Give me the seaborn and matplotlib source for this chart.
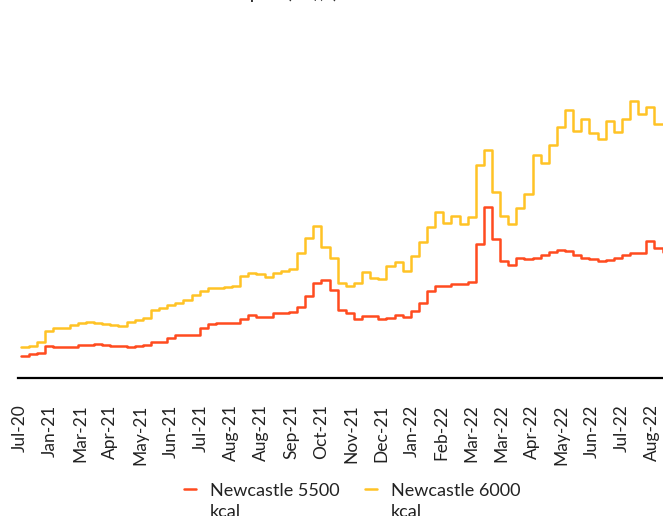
import numpy as np
import pandas as pd
import matplotlib.pyplot as plt
import seaborn as sns

# weekly steps (US$/t)
nc5500 = [35, 38, 40, 51, 50, 50, 50, 53, 53, 54,
          53, 51, 51, 50, 51, 53, 58, 58, 64, 69,
          69, 69, 80, 86, 88, 88, 88, 94, 101, 98,
          98, 104, 104, 106, 114, 131, 152, 157, 141, 109,
          104, 94, 99, 99, 94, 96, 101, 98, 107, 120,
          139, 147, 147, 150, 150, 154, 214, 274, 222, 187,
          181, 192, 190, 192, 197, 202, 205, 203, 197, 192,
          190, 187, 189, 192, 197, 200, 200, 219, 208, 202]
nc6000 = [50, 51, 58, 75, 80, 80, 85, 88, 90, 88,
          86, 85, 83, 90, 93, 96, 109, 112, 117, 120,
          125, 133, 139, 144, 144, 146, 147, 163, 168, 166,
          162, 168, 171, 174, 200, 224, 243, 210, 192, 152,
          147, 152, 170, 160, 158, 179, 186, 171, 195, 218,
          242, 266, 248, 259, 246, 258, 341, 365, 298, 259,
          246, 272, 294, 357, 344, 373, 402, 429, 395, 414,
          392, 382, 411, 394, 414, 443, 422, 434, 406, 406]
tick_labels = ['Jul-20', 'Jan-21', 'Mar-21', 'Apr-21', 'May-21', 'Jun-21', 'Jul-21',
               'Aug-21', 'Aug-21', 'Sep-21', 'Oct-21', 'Nov-21', 'Dec-21', 'Jan-22',
               'Feb-22', 'Mar-22', 'Mar-22', 'Apr-22', 'May-22', 'Jun-22', 'Jul-22', 'Aug-22']
series_names = ['Newcastle 5500\nkcal', 'Newcastle 6000\nkcal']

df = pd.concat([
    pd.DataFrame({'week': np.arange(len(nc5500)), 'price': nc5500, 'series': series_names[0]}),
    pd.DataFrame({'week': np.arange(len(nc6000)), 'price': nc6000, 'series': series_names[1]}),
])

sns.set_theme(style='white')
plt.rcParams['font.family'] = ['Lato', 'DejaVu Sans']

fig = plt.figure(figsize=(6.63, 5.16), dpi=100)
ax = fig.add_axes([18 / 663, 138 / 516, 645 / 663, 338 / 516])

sns.lineplot(data=df, x='week', y='price', hue='series',
             palette=['#FF4B1F', '#FFC325'], drawstyle='steps-post',
             linewidth=1.8, ax=ax)

ax.set_xlim(-0.37, 79.06)
ax.set_ylim(0, 541)
# ticks sit about 3.7 weeks apart
tick_pos = (np.arange(len(tick_labels)) * 30.1 - 1) / 8.12
ax.set_xticks(tick_pos, labels=tick_labels, rotation=90)
ax.tick_params(axis='x', length=0, pad=19, labelsize=12.5, labelcolor='#222222')
ax.set_yticks([])
ax.set_xlabel('')
ax.set_ylabel('')
for side in ['top', 'right', 'left']:
    ax.spines[side].set_visible(False)
ax.spines['bottom'].set_color('black')
ax.spines['bottom'].set_linewidth(1.6)

handles, labels = ax.get_legend_handles_labels()
ax.get_legend().remove()
leg = fig.legend(handles, labels, loc='upper center', bbox_to_anchor=(352 / 663, 42 / 516),
                 ncol=2, frameon=False, fontsize=13, handlelength=0.7,
                 handletextpad=0.75, columnspacing=1.4, borderpad=0)
for t in leg.get_texts():
    t.set_linespacing(1.4)
    t.set_color('#222222')
# keep the legend swatch level with the first line of the label
for h in leg.legend_handles:
    h.set_ydata(np.asarray(h.get_ydata()) + 9)

# title sits mostly above the crop
fig.text(337 / 663, 1 + 1.5 / 516, 'Thermal coal price (US$, t)', ha='right',
         va='baseline', fontsize=11, fontweight='bold', color='#333333')

fig.savefig('out.png', dpi=100)
